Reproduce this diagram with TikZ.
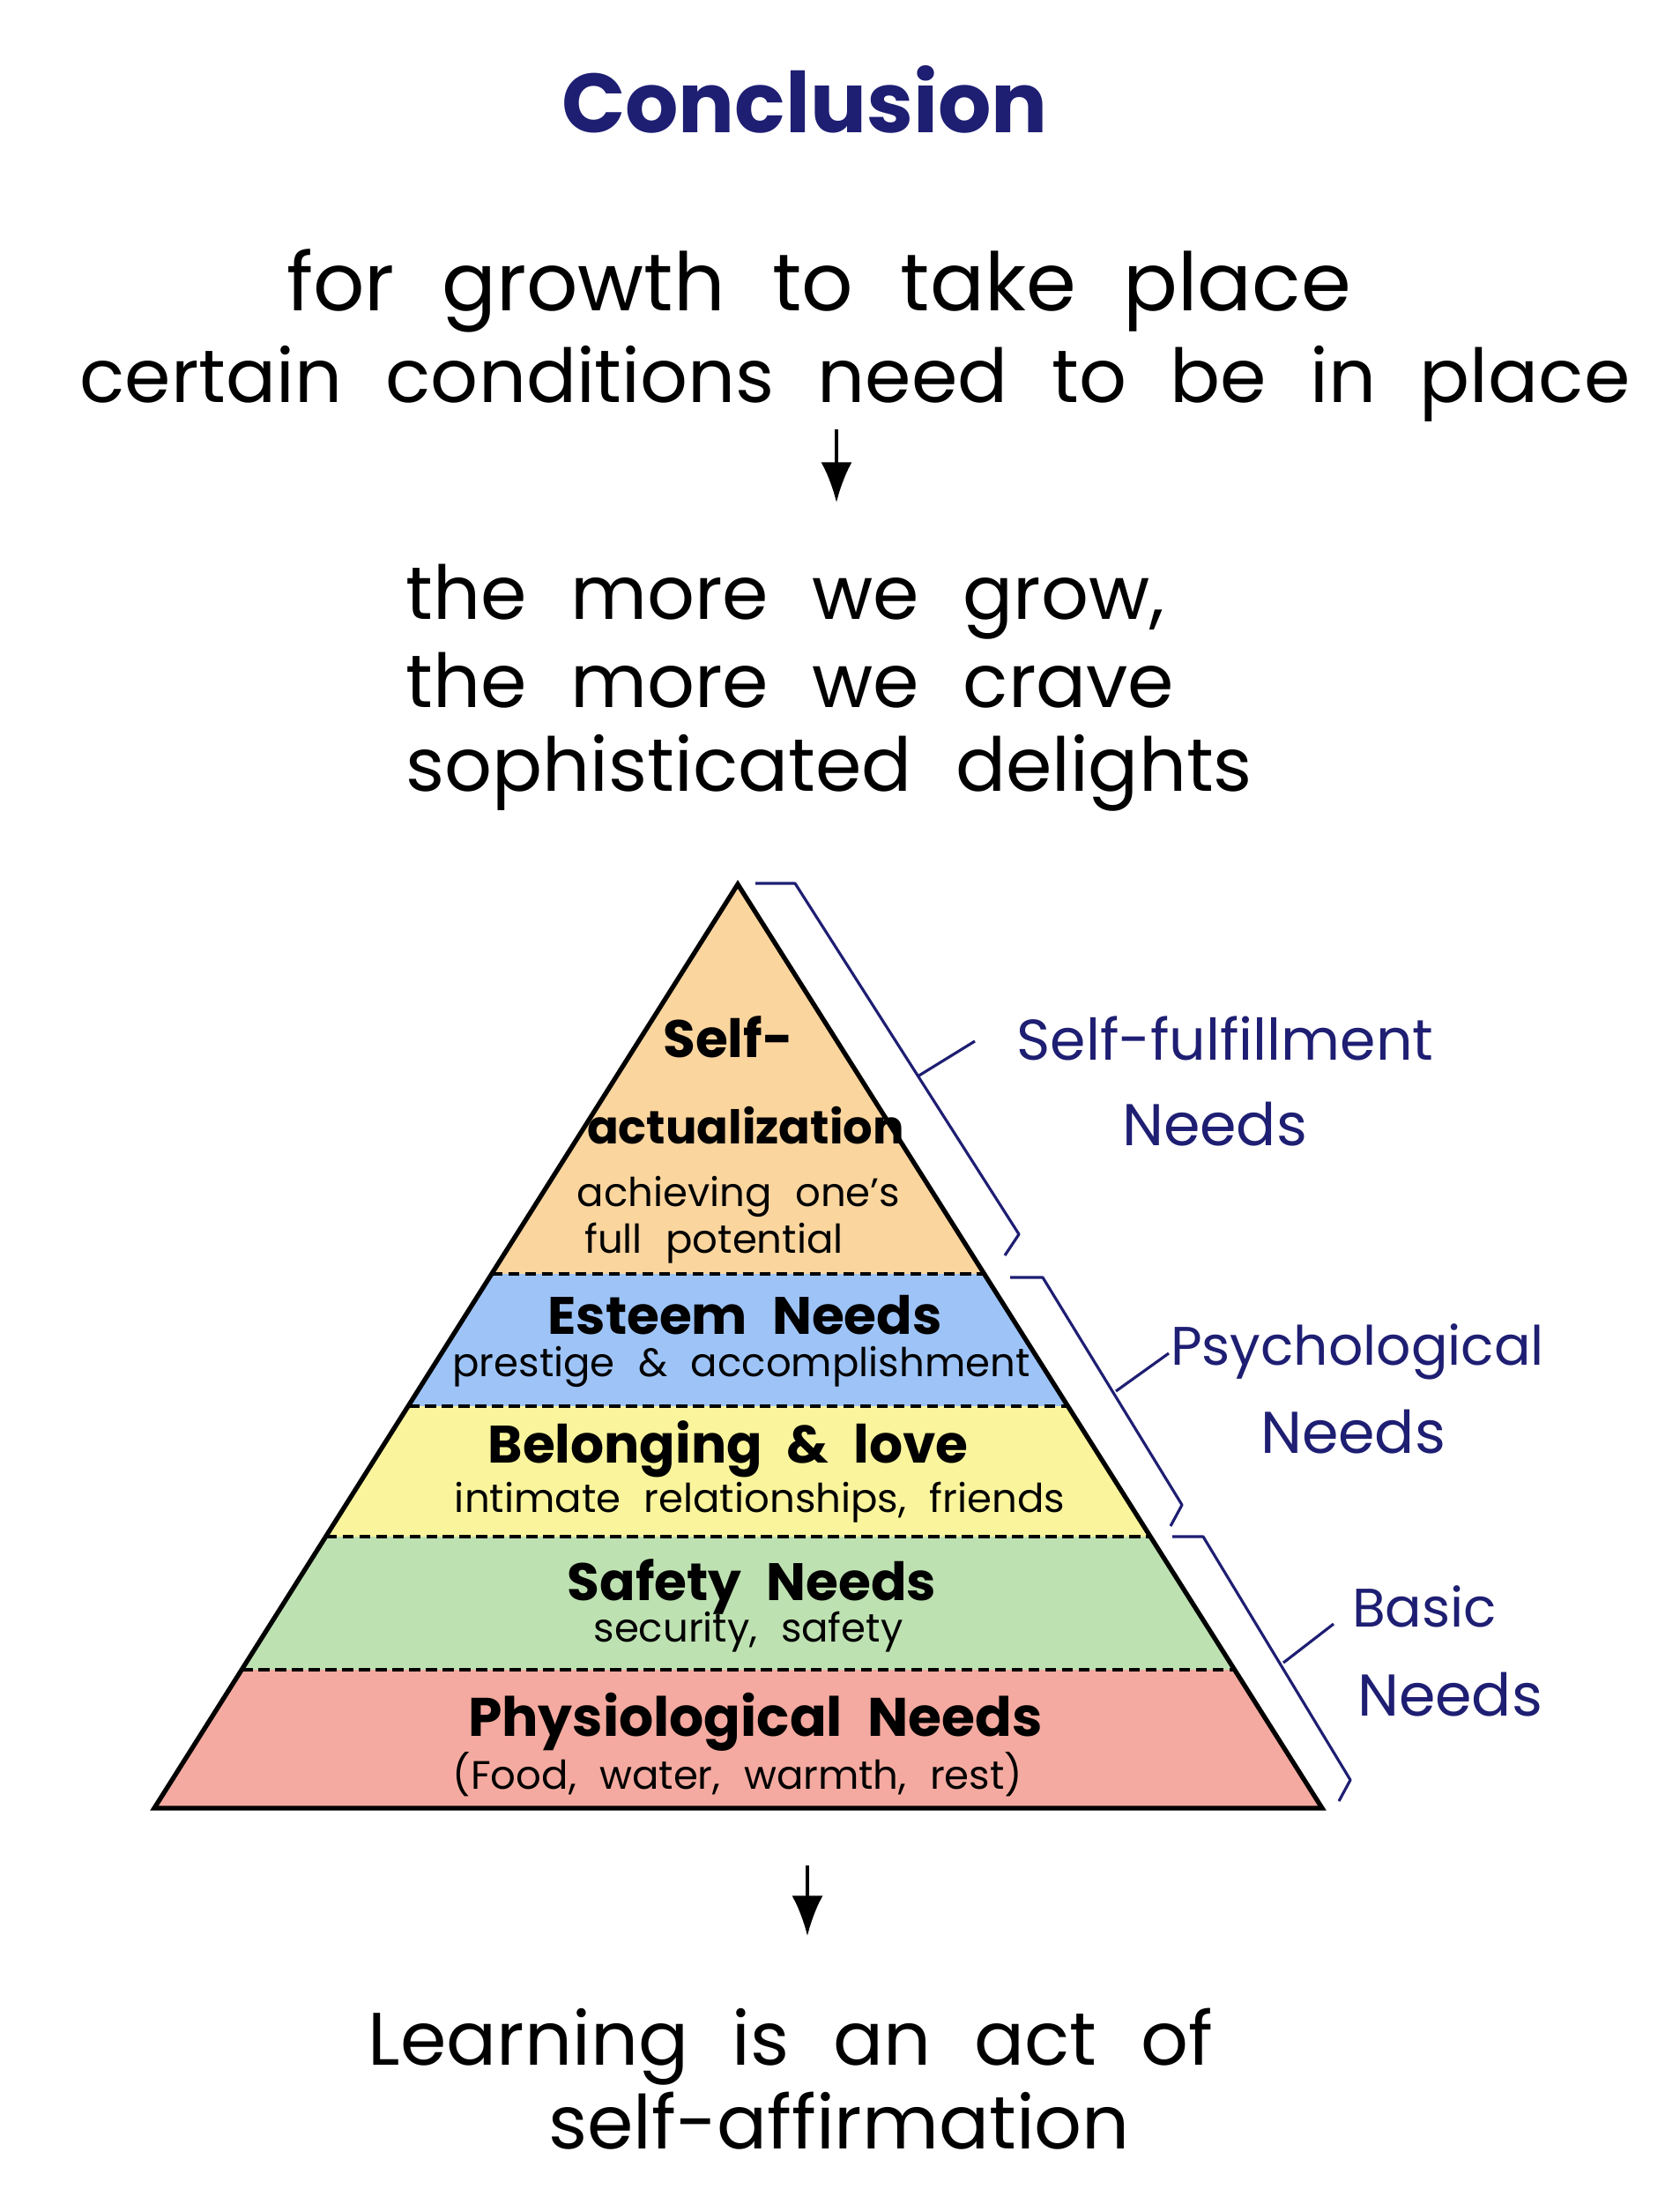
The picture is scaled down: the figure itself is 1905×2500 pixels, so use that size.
\documentclass[tikz,border=0pt]{standalone}
\usepackage{fontspec}
\setmainfont{Poppins}[WordSpace=2.2]
\usetikzlibrary{arrows,arrows.meta,positioning,calc}
\definecolor{ink}{RGB}{30,30,115}
\definecolor{peach}{RGB}{250,213,158}
\definecolor{sky}{RGB}{158,196,247}
\definecolor{lemon}{RGB}{250,244,156}
\definecolor{mint}{RGB}{190,225,178}
\definecolor{salmon}{RGB}{244,170,160}

\begin{document}
\begin{tikzpicture}[x=0.01cm, y=-0.01cm,
    every node/.style={inner sep=0pt, anchor=base},
    heading/.style={font=\fontsize{27}{32}\selectfont\bfseries, text=ink},
    talk/.style={font=\fontsize{24}{29}\selectfont},
    tiername/.style={font=\fontsize{17}{20}\selectfont\bfseries},
    tiertext/.style={font=\fontsize{12.8}{15}\selectfont},
    sidelabel/.style={font=\fontsize{17.5}{20}\selectfont, text=ink},
    bracket/.style={draw=ink, line width=0.9pt, line join=round},
    divider/.style={draw=black, line width=1pt, dash pattern=on 3.6pt off 1.8pt},
    downarrow/.style={draw=black, line width=1.2pt, -{Latex[length=13pt,width=10pt]}}
    ]
\useasboundingbox (0,0) rectangle (1905,2500);

% text above the pyramid
\node[heading] (title) at (913,151) {Conclusion};
\node[talk, font=\fontsize{26}{30}\selectfont] (growth) at (929,352) {for growth to take place};
\node[talk] (cond) at (970,456) {certain conditions need to be in place};
\coordinate (a1) at (949,487);
\coordinate (a2) at (949,570);
\draw[downarrow] (a1) -- (a2);
\node[talk, anchor=base west] (grow) at (460,702) {the more we grow,};
\node[talk, anchor=base west] (crave) at (460,802) {the more we crave};
\node[talk, anchor=base west] (delight) at (460,897) {sophisticated delights};

% pyramid
\coordinate (apex) at (837,1003);
\coordinate (bl) at (175,2051);
\coordinate (br) at (1500,2051);
\coordinate (l1) at ($(apex)!0.4218!(bl)$);
\coordinate (r1) at ($(apex)!0.4218!(br)$);
\coordinate (l2) at ($(apex)!0.5649!(bl)$);
\coordinate (r2) at ($(apex)!0.5649!(br)$);
\coordinate (l3) at ($(apex)!0.7061!(bl)$);
\coordinate (r3) at ($(apex)!0.7061!(br)$);
\coordinate (l4) at ($(apex)!0.8502!(bl)$);
\coordinate (r4) at ($(apex)!0.8502!(br)$);

\fill[peach] (apex) -- (r1) -- (l1) -- cycle;
\fill[sky] (l1) -- (r1) -- (r2) -- (l2) -- cycle;
\fill[lemon] (l2) -- (r2) -- (r3) -- (l3) -- cycle;
\fill[mint] (l3) -- (r3) -- (r4) -- (l4) -- cycle;
\fill[salmon] (l4) -- (r4) -- (br) -- (bl) -- cycle;
\draw[divider] (l1) -- (r1);
\draw[divider] (l2) -- (r2);
\draw[divider] (l3) -- (r3);
\draw[divider] (l4) -- (r4);
\draw[line width=1.5pt] (apex) -- (br) -- (bl) -- cycle;

\node[tiername] (self) at (826,1199) {Self-};
\node[tiername, font=\fontsize{15}{18}\selectfont\bfseries] (actual) at (846,1297) {actualization};
\node[tiertext] (achieve) at (838,1368) {achieving one’s};
\node[tiertext] (full) at (810,1421) {full potential};
\node[tiername] (esteem) at (845,1513) {Esteem Needs};
\node[tiertext] (prestige) at (841,1561) {prestige \& accomplishment};
\node[tiername] (belong) at (826,1659) {Belonging \& love};
\node[tiertext] (intimate) at (862,1715) {intimate relationships, friends};
\node[tiername] (safety) at (853,1815) {Safety Needs};
\node[tiertext] (security) at (849,1862) {security, safety};
\node[tiername, font=\fontsize{17.5}{20}\selectfont\bfseries] (physio) at (857,1969) {Physiological Needs};
\node[tiertext] (food) at (837,2029) {(Food, water, warmth, rest)};

% brackets on the right
\node[sidelabel, font=\fontsize{18.5}{22}\selectfont] (sfl) at (1390,1202) {Self-fulfillment};
\node[sidelabel, font=\fontsize{19}{22}\selectfont] (sfn) at (1378,1299) {Needs};
\node[sidelabel] (psl) at (1540,1548) {Psychological};
\node[sidelabel, font=\fontsize{19}{22}\selectfont] (psn) at (1535,1648) {Needs};
\node[sidelabel] (bal) at (1616,1845) {Basic};
\node[sidelabel, font=\fontsize{19}{22}\selectfont] (ban) at (1645,1946) {Needs};

\coordinate (sf1) at (857,1002);
\coordinate (sf2) at (902,1002);
\coordinate (sf3) at (1156,1400);
\coordinate (sf4) at (1140,1424);
\coordinate (sfm) at (1041,1221);
\coordinate (sft) at (1106,1181);
\draw[bracket] (sf1) -- (sf2) -- (sf3) -- (sf4);
\draw[bracket] (sfm) -- (sft);

\coordinate (ps1) at (1146,1449);
\coordinate (ps2) at (1183,1449);
\coordinate (ps3) at (1341,1707);
\coordinate (ps4) at (1328,1731);
\coordinate (psm) at (1266,1578);
\coordinate (pst) at (1326,1535);
\draw[bracket] (ps1) -- (ps2) -- (ps3) -- (ps4);
\draw[bracket] (psm) -- (pst);

\coordinate (ba1) at (1330,1743);
\coordinate (ba2) at (1365,1743);
\coordinate (ba3) at (1532,2019);
\coordinate (ba4) at (1519,2043);
\coordinate (bam) at (1456,1886);
\coordinate (bat) at (1513,1842);
\draw[bracket] (ba1) -- (ba2) -- (ba3) -- (ba4);
\draw[bracket] (bam) -- (bat);

% text below the pyramid
\coordinate (b1) at (916,2116);
\coordinate (b2) at (916,2196);
\draw[downarrow] (b1) -- (b2);
\node[talk] (learn) at (897,2342) {Learning is an act of};
\node[talk] (affirm) at (952,2437) {self-affirmation};
\end{tikzpicture}
\end{document}
